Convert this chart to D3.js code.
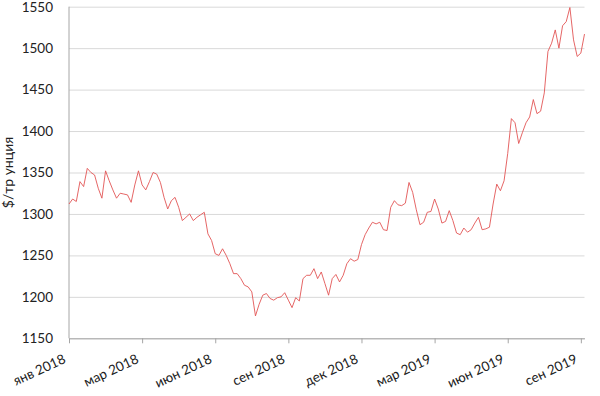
<!DOCTYPE html>
<html>
<head>
<meta charset="utf-8">
<script src="https://cdn.jsdelivr.net/npm/d3@7"></script>
<style>
  body { margin: 0; background: #fff; }
  svg text { font-family: Lato, "Open Sans", sans-serif; fill: #222; }
</style>
</head>
<body>
<svg id="chart" width="600" height="396"></svg>
<script>
// gold price, $/troy ounce, one reading every 3rd trading day from jan 2018
const prices = [
    1312, 1318, 1315, 1339, 1333, 1355, 1350, 1347, 1331, 1319,
    1352, 1340, 1329, 1319, 1325, 1324, 1323, 1314, 1335, 1352,
    1335, 1329, 1339, 1350, 1348, 1338, 1320, 1306, 1316, 1320,
    1308, 1292, 1296, 1300, 1292, 1296, 1299, 1302, 1276, 1268,
    1252, 1250, 1258, 1250, 1240, 1228, 1228, 1222, 1214, 1212,
    1206, 1177, 1191, 1202, 1204, 1198, 1196, 1199, 1200, 1205,
    1196, 1187, 1199, 1195, 1222, 1226, 1226, 1234, 1222, 1230,
    1216, 1202, 1222, 1227, 1218, 1226, 1240, 1246, 1243, 1245,
    1263, 1275, 1283, 1290, 1288, 1290, 1281, 1280, 1308, 1316,
    1311, 1310, 1313, 1338, 1326, 1305, 1287, 1290, 1302, 1303,
    1318, 1306, 1289, 1291, 1304, 1292, 1277, 1275, 1283, 1278,
    1281, 1289, 1296, 1281, 1282, 1284, 1312, 1336, 1328, 1340,
    1373, 1415, 1410, 1385, 1398, 1410, 1417, 1438, 1421, 1424,
    1446, 1496, 1506, 1522, 1500, 1527, 1532, 1549, 1510, 1490,
    1494, 1517
];
const STEP = 3;          // trading days between readings
const TICK_EVERY = 60;   // trading days between category ticks
const xLabels = ["янв 2018", "мар 2018", "июн 2018", "сен 2018",
                 "дек 2018", "мар 2019", "июн 2019", "сен 2019"];
const yTicks = [1150, 1200, 1250, 1300, 1350, 1400, 1450, 1500, 1550];
const yTitle = "$/тр унция";

const margin = {top: 6.7, right: 15.5, bottom: 57.7, left: 69},
    width = 600 - margin.left - margin.right,
    height = 396 - margin.top - margin.bottom;

const svg = d3.select("#chart");
const g = svg.append("g")
    .attr("transform", `translate(${margin.left}, ${margin.top})`);

const lastDay = (prices.length - 1) * STEP;
const x = d3.scaleLinear().domain([0, lastDay]).range([0, width]);
const y = d3.scaleLinear().domain([1150, 1550]).range([height, 0]);

// gridlines + y labels
const yAxis = g.append("g")
    .call(d3.axisLeft(y)
        .tickValues(yTicks)
        .tickFormat(d3.format("d"))
        .tickSize(-width)
        .tickPadding(16));
yAxis.select(".domain").remove();
yAxis.selectAll(".tick line").attr("stroke", "#d9d9d9").attr("stroke-width", 1);
yAxis.selectAll(".tick text").style("font-size", "13.5px");

// left axis line
g.append("line")
    .attr("x1", 0).attr("x2", 0)
    .attr("y1", 0).attr("y2", height)
    .attr("stroke", "#a6a6a6");

// x axis (category ticks every 60 trading days)
const tickDays = xLabels.map((d, i) => i * TICK_EVERY);
const xAxis = g.append("g")
    .attr("transform", `translate(0, ${height})`)
    .call(d3.axisBottom(x)
        .tickValues(tickDays)
        .tickSize(5)
        .tickSizeOuter(0)
        .tickFormat((d, i) => xLabels[i]));
xAxis.select(".domain").attr("stroke", "#a6a6a6");
xAxis.selectAll(".tick line").attr("stroke", "#a6a6a6");
xAxis.selectAll(".tick text")
    .attr("x", null).attr("y", null).attr("dy", null)
    .attr("text-anchor", "end")
    .attr("transform", "translate(-3, 24) rotate(-25)")
    .style("font-size", "13.5px");

// price line
const line = d3.line()
    .x((d, i) => x(i * STEP))
    .y(d => y(d));
g.append("path")
    .datum(prices)
    .attr("fill", "none")
    .attr("stroke", "#e25555")
    .attr("stroke-width", 0.9)
    .attr("stroke-linejoin", "round")
    .attr("d", line);

// y title
svg.append("text")
    .attr("transform", `translate(12.5, ${margin.top + height / 2}) rotate(-90)`)
    .attr("text-anchor", "middle")
    .style("font-size", "14px")
    .text(yTitle);
</script>
</body>
</html>
